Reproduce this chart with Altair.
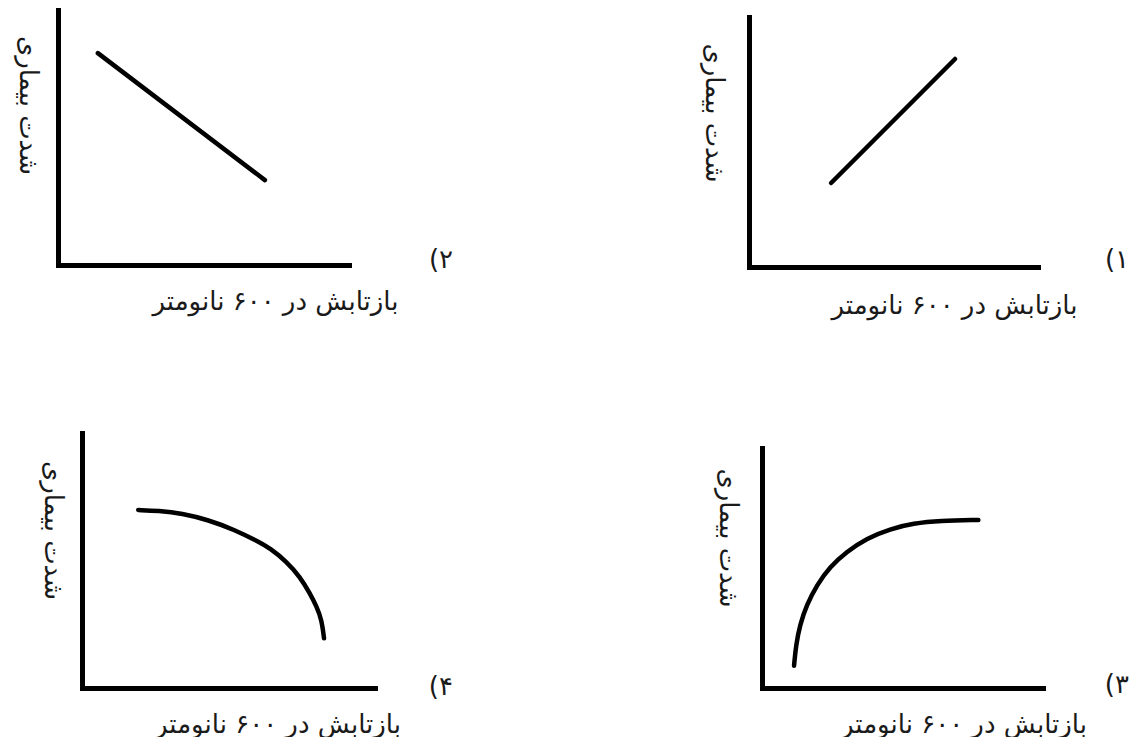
import altair as alt
import pandas as pd

FONT = "DejaVu Sans"
TEXT_COLOR = "#1a1a1a"
X_TITLE = "بازتابش در  ۶۰۰ نانومتر"
Y_TITLE = "شدت بیماری"

# panel numbers (printed as "(n")
label_digits = ["۱", "۲", "۳", "۴"]
label_bracket = "("

# panel 1 (top right): straight rising line
p1_x = [2.84, 7.13]
p1_y = [3.36, 8.32]
# panel 2 (top left): straight falling line
p2_x = [1.37, 7.11]
p2_y = [8.31, 3.33]
# panel 3 (bottom right): rising, saturating curve
p3_x = [1.14, 1.21, 1.35, 1.59, 1.95, 2.42, 3.01, 3.73, 4.56, 5.39, 6.33, 7.70]
p3_y = [0.93, 1.79, 2.63, 3.46, 4.29, 5.05, 5.68, 6.24, 6.63, 6.86, 6.97, 7.00]
# panel 4 (bottom left): flat then falling curve
p4_x = [1.92, 2.61, 3.41, 4.31, 5.22, 6.02, 6.42, 6.99, 7.44, 7.78, 8.01, 8.18, 8.26]
p4_y = [6.98, 6.95, 6.85, 6.59, 6.20, 5.74, 5.48, 4.95, 4.36, 3.71, 3.19, 2.67, 1.95]

# label anchor positions in each panel's data units: bracket x, digit x, y
bracket_x = [12.49, 12.92, 12.38, 12.01]
digit_x = [12.91, 13.33, 12.81, 12.42]
label_y = [0.28, 0.20, 0.12, 0.04]

W, H = 320, 257


def panel(xs, ys, i, xr, yr, yoff, xoff, ytx, yty, xtx, xty, interp):
    df = pd.DataFrame({"x": xs, "y": ys})
    xsc = alt.Scale(domain=[0, 10], range=xr, nice=False, zero=False)
    ysc = alt.Scale(domain=[0, 10], range=yr, nice=False, zero=False)
    common = dict(
        ticks=False, labels=False, grid=False,
        domainColor="black", domainWidth=5, domainCap="square",
        titleFont=FONT, titleFontSize=26, titleFontWeight="normal",
        titleColor=TEXT_COLOR, titleAlign="center", titleBaseline="middle",
        titleLimit=1000,
    )
    xax = alt.Axis(title=X_TITLE, titleX=xtx, titleY=xty, titleAngle=0, offset=xoff, **common)
    yax = alt.Axis(title=Y_TITLE, titleX=ytx, titleY=yty, titleAngle=90, offset=yoff, **common)
    line = alt.Chart(df).mark_line(
        color="black", strokeWidth=4.5, strokeCap="round", strokeJoin="round",
        interpolate=interp
    ).encode(
        x=alt.X("x:Q", scale=xsc, axis=xax),
        y=alt.Y("y:Q", scale=ysc, axis=yax),
    )
    ldf = pd.DataFrame({
        "x": [bracket_x[i], digit_x[i]],
        "y": [label_y[i], label_y[i]],
        "t": [label_bracket, label_digits[i]],
    })
    text = alt.Chart(ldf).mark_text(
        font=FONT, fontSize=26, color=TEXT_COLOR, align="center", baseline="middle"
    ).encode(
        x=alt.X("x:Q", scale=xsc, axis=xax),
        y=alt.Y("y:Q", scale=ysc, axis=yax),
        text="t:N",
    )
    return alt.layer(line, text).properties(width=W, height=H)


p2 = panel(p2_x, p2_y, 1, [0, 291], [255, 0], 0, -2, -31, 95, 217, 36, "linear")
p1 = panel(p1_x, p1_y, 0, [0, 289], [257, 7], 0, 0, -36, 102.5, 205, 38, "linear")
p4 = panel(p4_x, p4_y, 3, [24, 317], [255, 0], -24, -2, -30, 97, 219.5, 36, "basis")
p3 = panel(p3_x, p3_y, 2, [13, 294], [255, 15], -13, -2, -35, 104.5, 214.5, 36, "basis")

chart = alt.concat(
    p2, p1, p4, p3, columns=2, spacing={"row": 166, "column": 371}, bounds="flush"
).properties(
    padding={"left": 6, "top": 2, "right": 0, "bottom": 0}
).configure_view(stroke=None)

chart.save("out.html", embed_options={"renderer": "svg", "actions": False})
